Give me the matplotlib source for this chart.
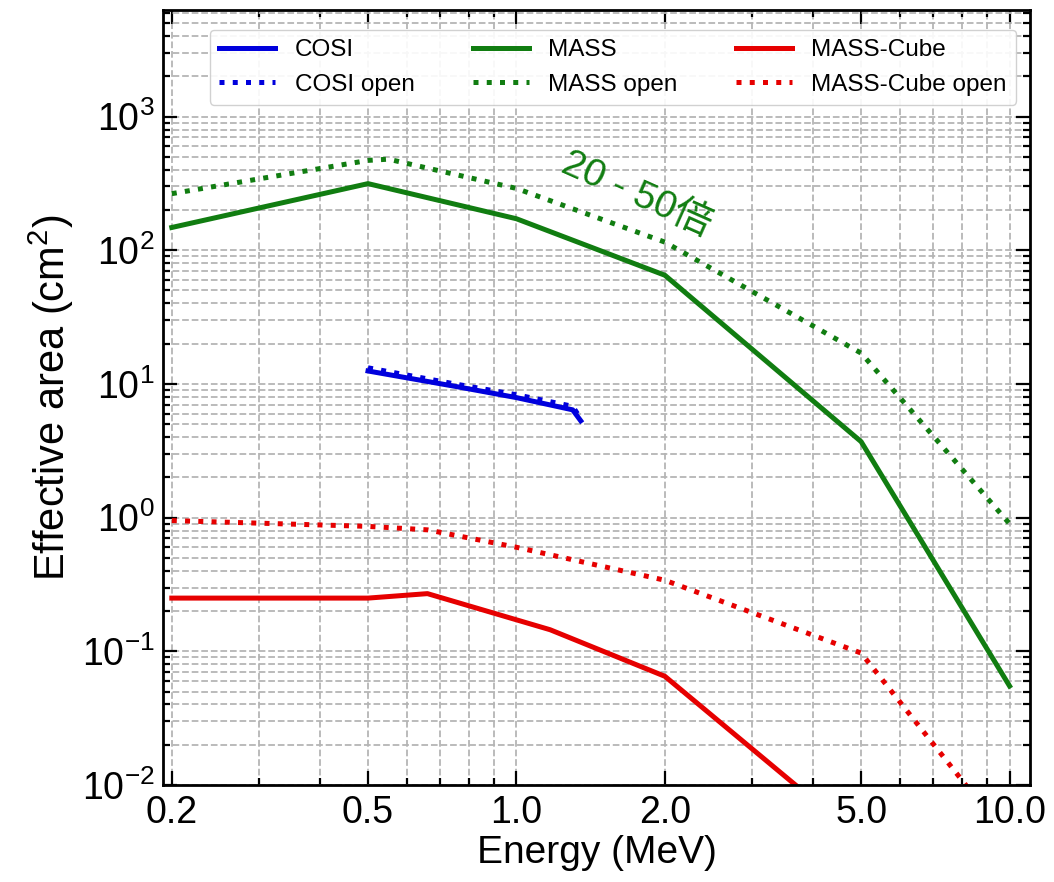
import matplotlib
matplotlib.use("Agg")
import matplotlib.pyplot as plt
from matplotlib.ticker import FixedLocator, FixedFormatter, NullFormatter, LogLocator

plt.rcParams['font.family'] = ['Liberation Sans', 'Noto Sans CJK JP', 'DejaVu Sans']
plt.rcParams['mathtext.default'] = 'regular'

# datos
cosi_e = [0.5, 0.75, 1.0, 1.3, 1.35]
cosi_a = [12.5, 9.6, 7.9, 6.4, 5.3]
cosi_open_e = [0.5, 0.75, 1.0, 1.3, 1.35]
cosi_open_a = [13.2, 10.0, 8.3, 6.8, 5.5]

mass_e = [0.2, 0.5, 1.0, 2.0, 5.0, 10.0]
mass_a = [148, 315, 172, 65, 3.7, 0.055]
mass_open_e = [0.2, 0.5, 0.55, 1.0, 2.0, 5.0, 10.0]
mass_open_a = [265, 470, 480, 290, 115, 17, 0.9]

cube_e = [0.2, 0.5, 0.66, 1.17, 2.0, 3.68, 5.0]
cube_a = [0.25, 0.25, 0.27, 0.145, 0.065, 0.01, 0.0039]
cube_open_e = [0.2, 0.5, 0.66, 1.0, 2.0, 5.0, 8.15, 9.0]
cube_open_a = [0.95, 0.86, 0.81, 0.6, 0.34, 0.097, 0.01, 0.005]

xticks = [0.2, 0.5, 1.0, 2.0, 5.0, 10.0]
xlabels = ['0.2', '0.5', '1.0', '2.0', '5.0', '10.0']

fig = plt.figure(figsize=(10.54, 8.82), dpi=100)
ax = fig.add_axes([0.1547, 0.110, 0.8225, 0.879])

lw = 3.6
ax.plot(cosi_e, cosi_a, color='#0000dd', lw=lw, label='COSI')
ax.plot(mass_e, mass_a, color='#117d11', lw=lw, label='MASS')
ax.plot(cube_e, cube_a, color='#e60000', lw=lw, label='MASS-Cube')
ax.plot(cosi_open_e, cosi_open_a, color='#0000dd', lw=lw, ls=':', label='COSI open')
ax.plot(mass_open_e, mass_open_a, color='#117d11', lw=lw, ls=':', label='MASS open')
ax.plot(cube_open_e, cube_open_a, color='#e60000', lw=lw, ls=':', label='MASS-Cube open')

ax.set_xscale('log')
ax.set_yscale('log')
ax.set_xlim(0.192, 11.0)
ax.set_ylim(1e-2, 6.3e3)

ax.xaxis.set_major_locator(FixedLocator(xticks))
ax.xaxis.set_major_formatter(FixedFormatter(xlabels))
ax.xaxis.set_minor_locator(LogLocator(base=10, subs=range(2, 10), numticks=20))
ax.xaxis.set_minor_formatter(NullFormatter())
ax.yaxis.set_major_locator(LogLocator(base=10, numticks=20))
ax.yaxis.set_minor_locator(LogLocator(base=10, subs=range(2, 10), numticks=20))
ax.yaxis.set_minor_formatter(NullFormatter())

ax.grid(True, which='both', ls='--', color='#b5b5b5', lw=1.3)
ax.tick_params(which='both', direction='in', top=True, right=True, labelsize=27, width=1.6)
ax.tick_params(which='major', length=10)
ax.tick_params(axis='x', which='major', pad=7)
ax.tick_params(axis='y', which='major', pad=6)
ax.tick_params(which='minor', length=5)
for s in ax.spines.values():
    s.set_linewidth(2)

ax.set_xlabel('Energy (MeV)', fontsize=28, labelpad=3)
ax.set_ylabel('Effective area (cm$^2$)', fontsize=30, labelpad=4)

# orden de leyenda por columnas
h, l = ax.get_legend_handles_labels()
order = [0, 3, 1, 4, 2, 5]
ax.legend([h[i] for i in order], [l[i] for i in order], loc='upper center',
          bbox_to_anchor=(0.519, 0.99), ncol=3, fontsize=17.5, handlelength=2.3,
          columnspacing=2.4, framealpha=0.9, edgecolor='#cccccc')

ax.text(0.546, 0.762, '20 - 50倍', transform=ax.transAxes, color='#117d11',
        fontsize=28, rotation=-24, ha='center', va='center')

plt.savefig('out.png', dpi=100)
